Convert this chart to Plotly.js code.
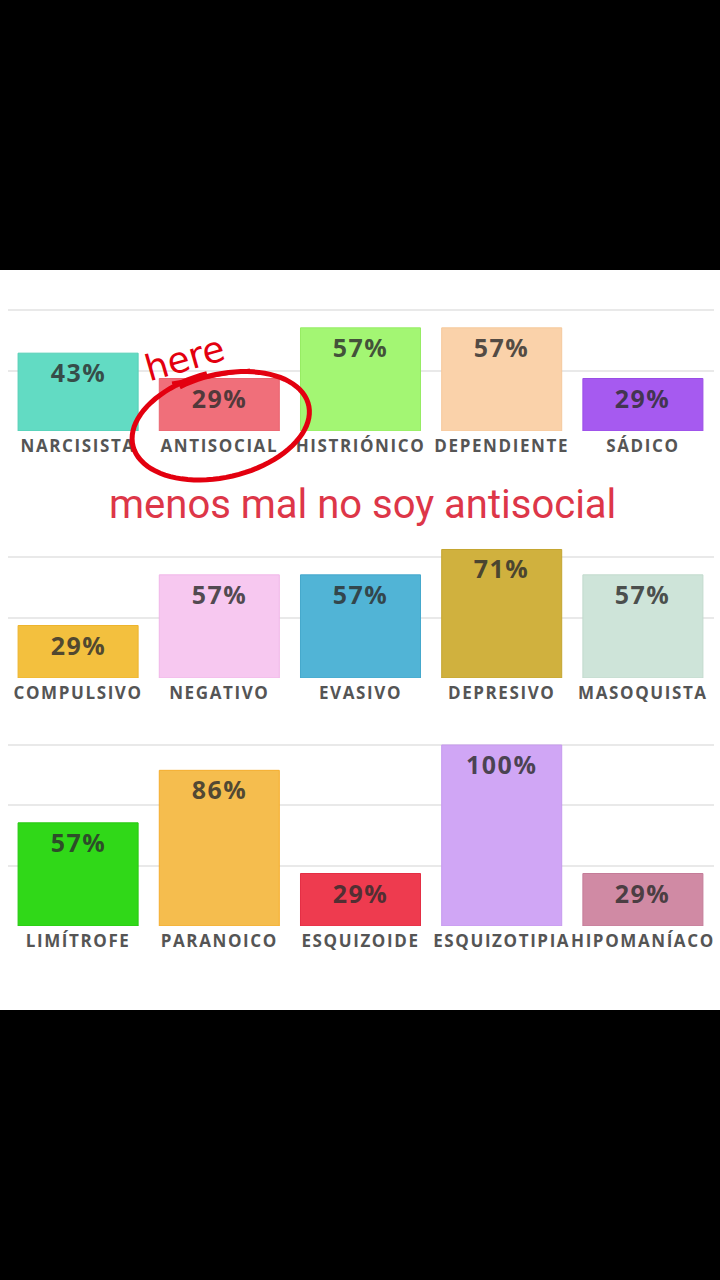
<!DOCTYPE html>
<html>
<head>
<meta charset="utf-8">
<script src="https://cdn.plot.ly/plotly-3.0.1.min.js"></script>
<style>
  html, body { margin: 0; padding: 0; background: #000; }
  #chart { width: 720px; height: 1280px; }
  .xtick text, .x2tick text, .x3tick text { letter-spacing: 1.6px; }
  .annotation.val .annotation-text { letter-spacing: 1.5px; }
</style>
</head>
<body>
<div id="chart"></div>
<script>
// ---- data ----
const cats1 = ["NARCISISTA", "ANTISOCIAL", "HISTRIÓNICO", "DEPENDIENTE", "SÁDICO"];
const vals1 = [43, 29, 57, 57, 29];
const cols1 = ["#62dbc3", "#f06f7a", "#a3f673", "#fad2aa", "#a65af0"];

const cats2 = ["COMPULSIVO", "NEGATIVO", "EVASIVO", "DEPRESIVO", "MASOQUISTA"];
const vals2 = [29, 57, 57, 71, 57];
const cols2 = ["#f3c03e", "#f7c8f0", "#51b4d6", "#d0b13e", "#cee4d9"];

const cats3 = ["LIMÍTROFE", "PARANOICO", "ESQUIZOIDE", "ESQUIZOTIPIA", "HIPOMANÍACO"];
const vals3 = [57, 86, 29, 100, 29];
const cols3 = ["#30d818", "#f5bd4e", "#ee3b4f", "#d0a6f5", "#d08aa4"];

const borders1 = ["#55cfb6", "#ea6571", "#96ec64", "#f5c89c", "#9a4ee6"];
const borders2 = ["#eeb42c", "#f0b6e8", "#45a8cc", "#c5a530", "#c2dacd"];
const borders3 = ["#26c810", "#f5ad2c", "#e42e44", "#c69aee", "#c47c98"];

const gridVals = [0, 33.33, 66.67, 100];

// ---- layout helpers (pixel -> paper) ----
const W = 720, H = 1280;
const fx = p => p / W;
const fy = p => 1 - p / H;
const PXU = 1.81; // pixels per percent
function dom(base, top) { return [fy(base), fy(base - top * PXU)]; }

const xdom = [fx(7.5), fx(713.5)];
const panels = [
  {cats: cats1, vals: vals1, cols: cols1, brd: borders1, base: 431, top: 70},
  {cats: cats2, vals: vals2, cols: cols2, brd: borders2, base: 678, top: 75},
  {cats: cats3, vals: vals3, cols: cols3, brd: borders3, base: 926, top: 102}
];

const traces = [];
const annotations = [];
const layout = {
  width: W, height: H,
  margin: {l: 0, r: 0, t: 0, b: 0},
  paper_bgcolor: "#000000",
  plot_bgcolor: "rgba(0,0,0,0)",
  showlegend: false,
  bargap: 0.15,
  shapes: [],
  annotations: annotations
};

panels.forEach((p, i) => {
  const sfx = i === 0 ? "" : String(i + 1);
  traces.push({
    type: "bar",
    x: p.cats, y: p.vals,
    xaxis: "x" + sfx, yaxis: "y" + sfx,
    marker: {color: p.cols, line: {color: p.brd, width: 1}},
    hoverinfo: "skip"
  });
  layout["xaxis" + sfx] = {
    domain: xdom, anchor: "y" + sfx, type: "category",
    showgrid: false, zeroline: false, showline: false, ticks: "",
    ticklabelstandoff: 3,
    tickfont: {family: "Open Sans", size: 17, color: "#555555", weight: 700},
    fixedrange: true
  };
  layout["yaxis" + sfx] = {
    domain: dom(p.base, p.top), anchor: "x" + sfx,
    range: [0, p.top], tickvals: gridVals, showticklabels: false,
    showgrid: true, gridcolor: "#e9e9e9", gridwidth: 2,
    zeroline: false, showline: false, fixedrange: true
  };
  p.cats.forEach((c, j) => {
    annotations.push({
      x: c, y: p.vals[j], xref: "x" + sfx, yref: "y" + sfx,
      text: p.vals[j] + "%", showarrow: false, yshift: -19,
      font: {family: "Open Sans", size: 25, color: "rgba(45,45,45,0.82)", weight: 700}
    });
  });
});

// white card behind the charts
layout.shapes.push({
  type: "rect", xref: "paper", yref: "paper", layer: "below",
  x0: 0, x1: 1, y0: fy(1010), y1: fy(270),
  fillcolor: "#ffffff", line: {width: 0}
});

// red hand-drawn ellipse around ANTISOCIAL
(function () {
  const cx = 222, cy = 425, a = 90, b = 52, th = -13.4 * Math.PI / 180;
  let d = "";
  const t0 = -1.95, t1 = -1.95 + 2 * Math.PI + 0.35;
  const n = 90;
  for (let k = 0; k <= n; k++) {
    const t = t0 + (t1 - t0) * k / n;
    const s = 0.97 + 0.06 * (k / n);
    const ex = cx + s * a * Math.cos(t) * Math.cos(th) - s * b * Math.sin(t) * Math.sin(th);
    const ey = cy + s * a * Math.cos(t) * Math.sin(th) + s * b * Math.sin(t) * Math.cos(th);
    d += (k === 0 ? "M" : "L") + fx(ex).toFixed(5) + "," + fy(ey).toFixed(5);
  }
  layout.shapes.push({
    type: "path", xref: "paper", yref: "paper", path: d,
    line: {color: "#e3000f", width: 5}
  });
  layout.shapes.push({
    type: "line", xref: "paper", yref: "paper",
    x0: fx(172), y0: fy(383), x1: fx(250), y1: fy(370),
    line: {color: "#e3000f", width: 3}
  });
})();

annotations.push({
  xref: "paper", yref: "paper", x: fx(184), y: fy(358),
  xanchor: "center", yanchor: "middle",
  text: "here", showarrow: false, textangle: -16,
  font: {family: "DejaVu Sans", size: 36, color: "#e3000f"}
});
annotations.push({
  xref: "paper", yref: "paper", x: fx(362), y: fy(504),
  xanchor: "center", yanchor: "middle",
  text: "menos mal no soy antisocial", showarrow: false,
  font: {family: "Roboto", size: 40, color: "#dd3648"}
});

Plotly.newPlot("chart", traces, layout, {staticPlot: true, displayModeBar: false}).then(() => {
  document.querySelectorAll(".annotation").forEach((g, idx) => {
    if (idx < 15) g.classList.add("val");
  });
});
</script>
</body>
</html>
